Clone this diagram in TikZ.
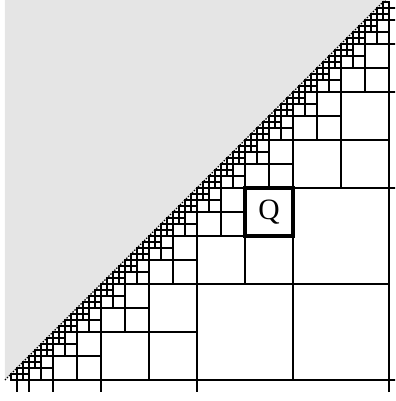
\documentclass[tikz,border=0pt]{standalone}
\usepackage{fontspec}
\setmainfont{Liberation Serif}

\begin{document}
\begin{tikzpicture}[x=0.025cm, y=0.025cm, line width=0.9pt]
	\useasboundingbox (-5,-21) rectangle (390,380);
	\clip (-5,-21) rectangle (390,380);
	% shaded half above the diagonal
	\fill[black!10] (0,0) -- (0,384) -- (384,384) -- cycle;
	\draw[line width=0.8pt, dash pattern=on 1pt off 1pt] (0,0) -- (384,384);
	% frame with ticks
	\draw (6,0) -- (396,0);
	\draw (384,-12) -- (384,378);
	\foreach \x in {12,24,48,96,192,384} {\draw (\x,0) -- (\x,-12);}
	\foreach \y in {192,288,336,360,372} {\draw (384,\y) -- (396,\y);}
	% squares touching the diagonal at a corner, split down to 1/64
	\foreach \k in {1,...,6} {
		\pgfmathsetmacro{\dsize}{384/2^(\k-1)}
		\pgfmathtruncatemacro{\jmax}{2^(\k-1)-1}
		\foreach \j in {0,...,\jmax} {
			\pgfmathsetmacro{\px}{(\j+0.5)*\dsize}
			\foreach \m in {\k,...,6} {
				\pgfmathsetmacro{\sq}{384/2^\m}
				\draw (\px,\px-\sq) rectangle (\px+\sq,\px);
				\ifnum\m<6
					\draw (\px+\sq/2,\px-\sq) -- (\px+\sq/2,\px) (\px,\px-\sq/2) -- (\px+\sq,\px-\sq/2);
				\fi
			}
		}
	}
	\node[draw, line width=2.2pt, fill=white, minimum size=1.2cm, inner sep=0pt, font=\fontsize{21}{24}\selectfont] (q) at (264,168) {Q};
\end{tikzpicture}
\end{document}
